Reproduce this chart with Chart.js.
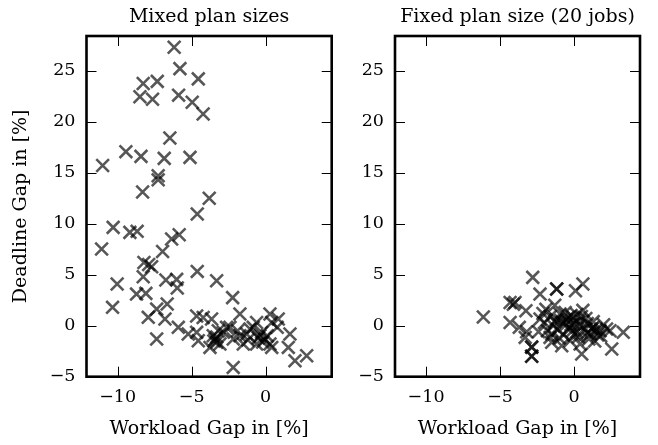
<!DOCTYPE html>
<html>
<head>
<meta charset="utf-8">
<script src="https://cdn.jsdelivr.net/npm/chart.js@4.4.1/dist/chart.umd.min.js"></script>
<style>
  html, body { margin: 0; padding: 0; background: #fff; }
  #wrap { position: relative; width: 658px; height: 445px; }
  #leftBox { position: absolute; left: 0; top: 0; width: 345px; height: 445px; }
  #rightBox { position: absolute; left: 345px; top: 0; width: 313px; height: 445px; }
</style>
</head>
<body>
<div id="wrap">
  <div id="leftBox"><canvas id="mixedChart" width="345" height="445"></canvas></div>
  <div id="rightBox"><canvas id="fixedChart" width="313" height="445"></canvas></div>
</div>
<script>
// Mixed plan sizes: workload gap (x) vs deadline gap (y), in %
const mixedWorkloadGap = [
  -6.18, -5.79, -4.55, -8.27, -7.32, -8.49, -7.64, -5.88, -4.96, -4.22,
  -6.47, -9.44, -8.42, -6.85, -5.11, -11.01, -7.26, -7.26, -8.31, -3.81,
  -4.62, -10.3, -9.17, -8.68, -11.08, -5.84, -6.35, -6.96, -8.22, -7.7,
  -7.9, -8.27, -10.03, -6.74, -6.01, -5.97, -4.62, -3.31, -8.72, -8.09,
  -2.23, -10.34, -6.65, -7.36, -1.74, -7.93, -6.8, -4.66, -4.22, -3.65,
  0.29, 0.85, -7.36, -5.9, -5.23, -4.66, -4.55, -3.76, -3.54, -3.31,
  -3.09, -2.64, -2.86, -2.41, -2.19, -1.74, -1.51, -1.28, -0.84, -0.61,
  -1.06, -0.39, -0.05, 0.29, -0.61, 0.41, 0.78, 1.64, 1.53, 1.98,
  2.77, -2.19, 0.41, -0.27, -3.4, -3.2, -1.9, -0.2, -3.5, -3.3,
  -1.2, -0.5, 0.1
];
const mixedDeadlineGap = [
  27.3, 25.2, 24.2, 23.75, 23.95, 22.45, 22.2, 22.6, 21.9, 20.75,
  18.4, 17.06, 16.6, 16.4, 16.5, 15.7, 14.7, 14.3, 13.1, 12.5,
  10.95, 9.64, 9.15, 9.25, 7.52, 8.92, 8.5, 7.28, 6.2, 5.78,
  6.0, 4.8, 4.09, 4.48, 4.54, 3.7, 5.32, 4.41, 3.1, 3.17,
  2.75, 1.8, 2.13, 1.63, 1.14, 0.82, 0.66, 0.95, 0.81, 0.66,
  1.14, 0.66, -1.3, -0.16, -0.82, -0.65, -1.47, -2.13, -0.98, -1.63,
  -1.8, -0.16, -0.65, -0.16, -1.3, -0.98, -1.8, -0.82, -0.16, 0.32,
  -0.32, -0.98, -1.3, -1.8, -1.8, 0.32, -0.16, -0.82, -2.13, -3.43,
  -2.94, -4.09, -2.13, -0.66, -1.3, -0.5, -0.5, -1.6, -1.5, -1.1,
  -1.4, -1.2, -1.0
];

// Fixed plan size (20 jobs)
const fixedWorkloadGap = [
  -2.79, -1.17, 0.1, 0.6, -2.3, -4.32, -3.99, -3.25, -6.13, -4.32,
  -3.7, -3.2, -3.3, -2.86, -2.86, -2.3, -1.9, -1.3, -0.95, -0.5,
  -0.05, 0.41, -1.62, -0.83, -0.27, 0.41, 0.52, 1.3, 1.76, 2.43,
  2.55, 3.33, -1.51, 2.2, -2.0, -1.6, -1.4, -1.1, -0.9, -0.6,
  -0.3, 0.0, 0.2, 0.5, 0.7, 0.9, 1.1, 1.3, 1.5, 1.8,
  -2.4, -1.8, -0.7, 0.3, 1.0, -1.2, 0.6, -0.4, 2.0, 1.4,
  -2.1, 0.0, -1.0, 0.8, -0.2, -1.5, -1.17, -2.86, -2.86, -4.1,
  -0.8, -0.1, 0.4, 1.2, -1.3, -0.5, 0.9, 1.6, -0.2, 0.2
];
const fixedDeadlineGap = [
  4.74, 3.6, 3.43, 4.09, 3.1, 2.28, 2.28, 1.47, 0.85, 0.32,
  -0.16, -0.6, -1.15, -2.1, -3.0, 0.66, 1.6, 2.0, 1.15, 0.17,
  0.81, 0.49, -1.15, -1.96, -1.47, -1.8, -2.78, -0.16, -0.49, -0.49,
  -2.29, -0.65, -1.63, -0.32, 0.3, 0.9, 0.0, -0.4, 0.5, 1.3,
  -0.2, 0.2, -0.6, 0.9, -0.3, 0.2, -0.8, 0.4, -0.4, -1.0,
  -0.6, -0.5, -0.9, -1.1, -1.3, 0.6, 1.5, 0.8, 0.1, -1.5,
  1.2, -0.9, -1.2, 0.7, 1.0, -0.8, 3.6, -2.1, -3.0, 2.1,
  0.3, -0.5, 0.0, -0.3, 0.4, 0.6, -0.7, -0.9, 0.1, 1.1
];

const xTicks = [-10, -5, 0];
const yTicks = [-5, 0, 5, 10, 15, 20, 25];
const xMin = -12.1, xMax = 4.46;
const yMin = -5, yMax = 28.4;

const FONT = "'DejaVu Serif', 'Liberation Serif', serif";
const fmt = v => String(v).replace('-', '\u2212');

// inward tick marks on all four sides, plus the heavy frame
const frameAndTicks = {
  id: 'frameAndTicks',
  afterDraw(chart) {
    const { ctx, chartArea: a, scales: { x, y } } = chart;
    ctx.save();
    ctx.strokeStyle = '#000';
    ctx.lineWidth = 1;
    ctx.beginPath();
    x.ticks.forEach(t => {
      const px = Math.round(x.getPixelForValue(t.value)) + 0.5;
      ctx.moveTo(px, a.bottom); ctx.lineTo(px, a.bottom - 10);
      ctx.moveTo(px, a.top); ctx.lineTo(px, a.top + 10);
    });
    y.ticks.forEach(t => {
      const py = Math.round(y.getPixelForValue(t.value)) + 0.5;
      ctx.moveTo(a.left, py); ctx.lineTo(a.left + 10, py);
      ctx.moveTo(a.right, py); ctx.lineTo(a.right - 10, py);
    });
    ctx.stroke();
    ctx.lineWidth = 2.6;
    ctx.strokeRect(a.left, a.top, a.width, a.height);
    ctx.restore();
  }
};

function makeChart(id, title, xs, ys, axisWidth, rightPad, showYTitle) {
  const ctx = document.getElementById(id).getContext('2d');
  return new Chart(ctx, {
    type: 'scatter',
    data: {
      datasets: [{
        data: xs.map((v, i) => ({ x: v, y: ys[i] })),
        pointStyle: 'crossRot',
        pointRadius: 9,
        pointHoverRadius: 9,
        borderWidth: 2.6,
        borderColor: 'rgba(0,0,0,0.66)',
        backgroundColor: 'rgba(0,0,0,0.66)'
      }]
    },
    options: {
      responsive: false,
      animation: false,
      devicePixelRatio: 1,
      layout: { padding: { top: 0, right: rightPad, bottom: 0, left: 0 }, autoPadding: false },
      plugins: {
        legend: { display: false },
        tooltip: { enabled: false },
        title: {
          display: true,
          text: title,
          fullSize: false,
          color: '#000',
          font: { family: FONT, size: 19, weight: 'normal', lineHeight: 1.2 },
          padding: { top: 5.6, bottom: 7.6 }
        }
      },
      scales: {
        x: {
          type: 'linear',
          min: xMin,
          max: xMax,
          afterBuildTicks: s => { s.ticks = xTicks.map(v => ({ value: v })); },
          afterFit: s => { s.height = 68.3; },
          grid: { display: false, drawTicks: false },
          border: { display: false },
          ticks: { padding: 10, color: '#000', font: { family: FONT, size: 17.5 }, callback: fmt },
          title: {
            display: true,
            text: 'Workload Gap in [%]',
            color: '#000',
            font: { family: FONT, size: 19, lineHeight: 1.2 },
            padding: { top: 0, bottom: 5 }
          }
        },
        y: {
          type: 'linear',
          min: yMin,
          max: yMax,
          afterBuildTicks: s => { s.ticks = yTicks.map(v => ({ value: v })); },
          afterFit: s => { s.width = axisWidth; },
          grid: { display: false, drawTicks: false },
          border: { display: false },
          ticks: { padding: 11, color: '#000', font: { family: FONT, size: 17.5 }, callback: fmt },
          title: {
            display: showYTitle,
            text: 'Deadline Gap in [%]',
            color: '#000',
            font: { family: FONT, size: 19, lineHeight: 1.2 },
            padding: { top: 9.5, bottom: 0 }
          }
        }
      }
    },
    plugins: [frameAndTicks]
  });
}

makeChart('mixedChart', 'Mixed plan sizes', mixedWorkloadGap, mixedDeadlineGap, 86.5, 13.3, true);
makeChart('fixedChart', 'Fixed plan size (20 jobs)', fixedWorkloadGap, fixedDeadlineGap, 50, 18, false);
</script>
</body>
</html>
